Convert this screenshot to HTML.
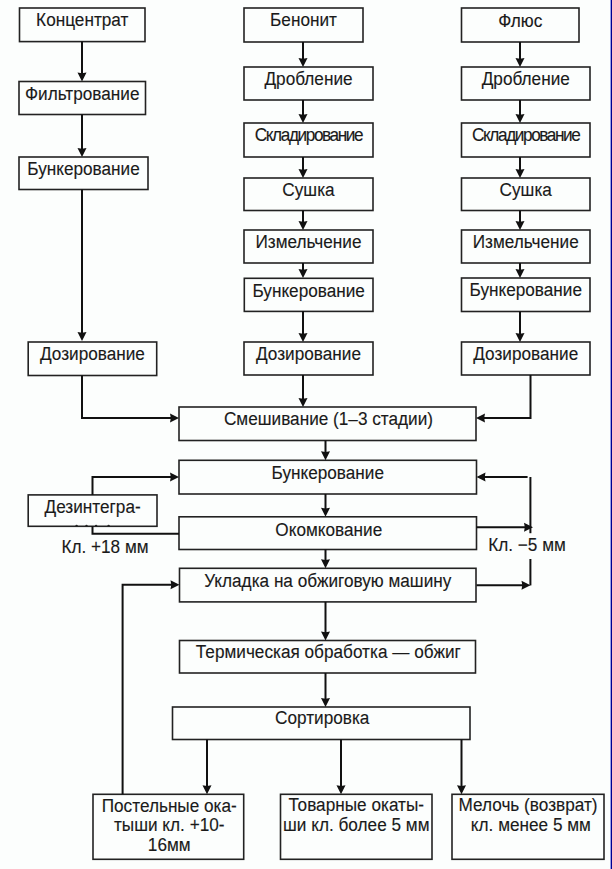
<!DOCTYPE html>
<html><head><meta charset="utf-8"><style>
html,body{margin:0;padding:0;background:#fcfefd;width:612px;height:869px;overflow:hidden}
svg{position:absolute;left:0;top:0}
text{font-family:"Liberation Sans",sans-serif;font-size:17.2px;fill:#1a1a1a;stroke:#1a1a1a;stroke-width:0.12px;text-anchor:middle}
</style></head><body>
<svg width="612" height="869" viewBox="0 0 612 869">
<g fill="#fcfefd" stroke="#222" stroke-width="1.6">
<rect x="19.5" y="8" width="125.50" height="33.60"/>
<rect x="19" y="81.5" width="126.50" height="33.00"/>
<rect x="19" y="157" width="129.00" height="32.50"/>
<rect x="28.2" y="342" width="128.50" height="33.50"/>
<rect x="244" y="8" width="119.00" height="34.00"/>
<rect x="244" y="67" width="129.00" height="33.00"/>
<rect x="244" y="123" width="129.00" height="34.00"/>
<rect x="244" y="178" width="129.00" height="32.50"/>
<rect x="244" y="230" width="129.00" height="33.00"/>
<rect x="244.3" y="278.3" width="128.70" height="33.10"/>
<rect x="244" y="342" width="129.00" height="33.00"/>
<rect x="461.5" y="8" width="117.50" height="34.00"/>
<rect x="461.5" y="67" width="128.50" height="33.00"/>
<rect x="461.5" y="123" width="128.50" height="34.00"/>
<rect x="461.5" y="178" width="128.50" height="32.50"/>
<rect x="461.5" y="230" width="128.50" height="33.00"/>
<rect x="461.5" y="278" width="128.50" height="33.50"/>
<rect x="461.5" y="342" width="128.50" height="33.00"/>
<rect x="179" y="407" width="297.00" height="33.50"/>
<rect x="179" y="460.3" width="297.50" height="33.70"/>
<rect x="179" y="516.8" width="297.50" height="32.70"/>
<rect x="179.5" y="568.3" width="296.50" height="33.60"/>
<rect x="179.5" y="640.5" width="296.00" height="32.50"/>
<rect x="172.5" y="707" width="297.50" height="32.50"/>
<rect x="93" y="794.3" width="150.70" height="65.00"/>
<rect x="280.5" y="794.3" width="151.50" height="65.00"/>
<rect x="452" y="794.3" width="152.00" height="65.00"/>
<rect x="28.2" y="494.9" width="128.80" height="31.40"/>
</g>
<g stroke="#111" stroke-width="2" fill="#111">
<line x1="82" y1="41.6" x2="82" y2="75.5"/><polygon stroke="none" points="77.5,72.5 82,73.3 86.5,72.5 82,81.5"/>
<line x1="82" y1="114.5" x2="82" y2="151"/><polygon stroke="none" points="77.5,148 82,148.8 86.5,148 82,157"/>
<line x1="82" y1="189.5" x2="82" y2="335"/><polygon stroke="none" points="77.5,332 82,332.8 86.5,332 82,341"/>
<polyline fill="none" points="82,375.5 82,418 173,418"/>
<polygon stroke="none" points="170,413.5 170.8,418 170,422.5 179,418"/>
<line x1="303" y1="42" x2="303" y2="61"/><polygon stroke="none" points="298.5,58 303,58.8 307.5,58 303,67"/>
<line x1="303" y1="100" x2="303" y2="117"/><polygon stroke="none" points="298.5,114 303,114.8 307.5,114 303,123"/>
<line x1="303" y1="157" x2="303" y2="172"/><polygon stroke="none" points="298.5,169 303,169.8 307.5,169 303,178"/>
<line x1="303" y1="210.5" x2="303" y2="224"/><polygon stroke="none" points="298.5,221 303,221.8 307.5,221 303,230"/>
<line x1="303" y1="263" x2="303" y2="272"/><polygon stroke="none" points="298.5,269 303,269.8 307.5,269 303,278"/>
<line x1="303" y1="311" x2="303" y2="336"/><polygon stroke="none" points="298.5,333 303,333.8 307.5,333 303,342"/>
<line x1="303" y1="375" x2="303" y2="401"/><polygon stroke="none" points="298.5,398 303,398.8 307.5,398 303,407"/>
<line x1="520" y1="42" x2="520" y2="61"/><polygon stroke="none" points="515.5,58 520,58.8 524.5,58 520,67"/>
<line x1="520" y1="100" x2="520" y2="117"/><polygon stroke="none" points="515.5,114 520,114.8 524.5,114 520,123"/>
<line x1="520" y1="157" x2="520" y2="172"/><polygon stroke="none" points="515.5,169 520,169.8 524.5,169 520,178"/>
<line x1="520" y1="210.5" x2="520" y2="224"/><polygon stroke="none" points="515.5,221 520,221.8 524.5,221 520,230"/>
<line x1="520" y1="263" x2="520" y2="272"/><polygon stroke="none" points="515.5,269 520,269.8 524.5,269 520,278"/>
<line x1="520" y1="311.5" x2="520" y2="336"/><polygon stroke="none" points="515.5,333 520,333.8 524.5,333 520,342"/>
<polyline fill="none" points="530.5,375 530.5,418 482,418"/>
<polygon stroke="none" points="485,413.5 484.2,418 485,422.5 476,418"/>
<line x1="325.5" y1="440.5" x2="325.5" y2="454.3"/><polygon stroke="none" points="321.0,451.3 325.5,452.1 330.0,451.3 325.5,460.3"/>
<line x1="325.5" y1="494" x2="325.5" y2="510.79999999999995"/><polygon stroke="none" points="321.0,507.79999999999995 325.5,508.59999999999997 330.0,507.79999999999995 325.5,516.8"/>
<line x1="325.5" y1="549.5" x2="325.5" y2="562.3"/><polygon stroke="none" points="321.0,559.3 325.5,560.0999999999999 330.0,559.3 325.5,568.3"/>
<line x1="325.5" y1="601.9" x2="325.5" y2="634.5"/><polygon stroke="none" points="321.0,631.5 325.5,632.3 330.0,631.5 325.5,640.5"/>
<line x1="325.5" y1="673" x2="325.5" y2="701"/><polygon stroke="none" points="321.0,698 325.5,698.8 330.0,698 325.5,707"/>
<line x1="207" y1="739.5" x2="207" y2="788.3"/><polygon stroke="none" points="202.5,785.3 207,786.0999999999999 211.5,785.3 207,794.3"/>
<line x1="341" y1="739.5" x2="341" y2="788.3"/><polygon stroke="none" points="336.5,785.3 341,786.0999999999999 345.5,785.3 341,794.3"/>
<line x1="461.5" y1="739.5" x2="461.5" y2="788.3"/><polygon stroke="none" points="457.0,785.3 461.5,786.0999999999999 466.0,785.3 461.5,794.3"/>
<polyline fill="none" points="122.6,794.3 122.6,584.8 173.5,584.8"/>
<polygon stroke="none" points="170.5,580.3 171.3,584.8 170.5,589.3 179.5,584.8"/>
<polyline fill="none" points="92.5,494.9 92.5,477 173,477"/>
<polygon stroke="none" points="170,472.5 170.8,477 170,481.5 179,477"/>
<polyline fill="none" points="92.5,526.3 92.5,533.8 179,533.8"/>
<polyline fill="none" points="476.5,527.3 527,527.3"/>
<polygon stroke="none" points="524,522.8 524.8,527.3 524,531.8 533,527.3"/>
<line x1="530.4" y1="477" x2="530.4" y2="533.2"/>
<polyline fill="none" points="527.6,477 482,477"/>
<polygon stroke="none" points="485.5,472.5 484.7,477 485.5,481.5 476.5,477"/>
<line x1="530.4" y1="559" x2="530.4" y2="585.4"/>
<polyline fill="none" points="476.5,585.3 524,585.3"/>
<polygon stroke="none" points="521.5,580.8 522.3,585.3 521.5,589.8 530.5,585.3"/>
</g>
<g>
<text transform="translate(82.25,26.40) scale(1,1.05)">Концентрат</text>
<text transform="translate(82.25,100.40) scale(1,1.05)">Фильтрование</text>
<text transform="translate(83.50,175.40) scale(1,1.05)">Бункерование</text>
<text transform="translate(92.45,360.20) scale(1,1.05)">Дозирование</text>
<text transform="translate(303.50,26.40) scale(1,1.05)">Бенонит</text>
<text transform="translate(308.50,85.40) scale(1,1.05)">Дробление</text>
<text transform="translate(308.50,141.40) scale(1,1.05)" letter-spacing="-1.4">Складирование</text>
<text transform="translate(308.50,196.40) scale(1,1.05)">Сушка</text>
<text transform="translate(308.50,248.40) scale(1,1.05)">Измельчение</text>
<text transform="translate(308.65,296.50) scale(1,1.05)">Бункерование</text>
<text transform="translate(308.50,360.40) scale(1,1.05)">Дозирование</text>
<text transform="translate(520.25,26.90) scale(1,1.05)">Флюс</text>
<text transform="translate(525.75,85.40) scale(1,1.05)">Дробление</text>
<text transform="translate(525.75,141.40) scale(1,1.05)" letter-spacing="-1.4">Складирование</text>
<text transform="translate(525.75,196.40) scale(1,1.05)">Сушка</text>
<text transform="translate(525.75,248.40) scale(1,1.05)">Измельчение</text>
<text transform="translate(525.75,296.40) scale(1,1.05)">Бункерование</text>
<text transform="translate(525.75,360.40) scale(1,1.05)">Дозирование</text>
<text transform="translate(328.50,425.00) scale(1,1.05)">Смешивание (1–3 стадии)</text>
<text transform="translate(327.75,478.50) scale(1,1.05)">Бункерование</text>
<text transform="translate(328.75,535.80) scale(1,1.05)">Окомкование</text>
<text transform="translate(327.75,586.50) scale(1,1.05)">Укладка на обжиговую машину</text>
<text transform="translate(328.30,657.60) scale(1,1.05)">Термическая обработка — обжиг</text>
<text transform="translate(322.25,724.20) scale(1,1.05)">Сортировка</text>
<text transform="translate(169.25,811.50) scale(1,1.05)">Постельные ока-</text>
<text transform="translate(169.25,831.30) scale(1,1.05)">тыши кл. +10-</text>
<text transform="translate(169.25,851.10) scale(1,1.05)">16мм</text>
<text transform="translate(356.25,811.40) scale(1,1.05)">Товарные окаты-</text>
<text transform="translate(356.25,831.20) scale(1,1.05)">ши кл. более 5 мм</text>
<text transform="translate(528.00,811.40) scale(1,1.05)">Мелочь (возврат)</text>
<text transform="translate(528.00,831.20) scale(1,1.05)"> кл. менее 5 мм</text>
<text transform="translate(92.60,512.50) scale(1,1.05)">Дезинтегра-</text>
<text transform="translate(105.00,552.80) scale(1,1.05)">Кл. +18 мм</text>
<ellipse cx="76.6" cy="525.6" rx="1.2" ry="0.9" fill="#222"/>
<ellipse cx="86.5" cy="525.6" rx="1.2" ry="0.9" fill="#222"/>
<ellipse cx="96.1" cy="525.6" rx="1.2" ry="0.9" fill="#222"/>
<ellipse cx="108.6" cy="525.6" rx="1.2" ry="0.9" fill="#222"/>
<text transform="translate(527.00,550.50) scale(1,1.05)">Кл. −5 мм</text>
</g>
<rect x="610" y="0" width="1" height="869" fill="#9aa0e6"/><rect x="611" y="0" width="1" height="869" fill="#000090"/>
</svg>
</body></html>
